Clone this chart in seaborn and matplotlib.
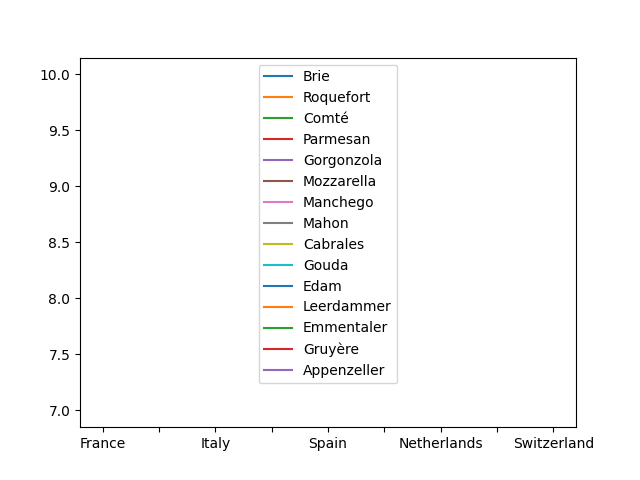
import matplotlib
matplotlib.use("Agg")
import matplotlib.pyplot as plt
import seaborn as sns
import pandas as pd
import numpy as np

countries = ["France", "Italy", "Spain", "Netherlands", "Switzerland"]
cheeses = ["Brie", "Roquefort", "Comté", "Parmesan", "Gorgonzola", "Mozzarella",
           "Manchego", "Mahon", "Cabrales", "Gouda", "Edam", "Leerdammer",
           "Emmentaler", "Gruyère", "Appenzeller"]
cheese_country = ["France", "France", "France", "Italy", "Italy", "Italy",
                  "Spain", "Spain", "Spain", "Netherlands", "Netherlands", "Netherlands",
                  "Switzerland", "Switzerland", "Switzerland"]
ratings = [9.0, 8.5, 9.5, 10.0, 8.0, 7.5, 8.5, 7.0, 8.0, 8.5, 7.5, 7.0, 8.0, 9.0, 8.5]

df = pd.DataFrame({
    "country": cheese_country,
    "x": [countries.index(c) for c in cheese_country],
    "cheese": cheeses,
    "rating": ratings,
})

tab10 = plt.get_cmap("tab10").colors
palette = [tab10[i % 10] for i in range(len(cheeses))]

fig, ax = plt.subplots(figsize=(6.4, 4.8), dpi=100)
sns.lineplot(data=df, x="x", y="rating", hue="cheese", hue_order=cheeses,
             palette=palette, ax=ax, estimator=None)

leg = ax.get_legend()
handles = leg.legend_handles
labels = [t.get_text() for t in leg.get_texts()]
leg.remove()
ax.legend(handles, labels, loc="upper center")

ax.set_xlim(-0.2, 4.2)
ax.set_ylim(6.85, 10.15)
ticks = np.arange(0, 4.01, 0.5)
ax.set_xticks(ticks)
ax.set_xticklabels([countries[int(t)] if t == int(t) else "" for t in ticks])
ax.set_xlabel("")
ax.set_ylabel("")

fig.savefig("out.png", dpi=100)
